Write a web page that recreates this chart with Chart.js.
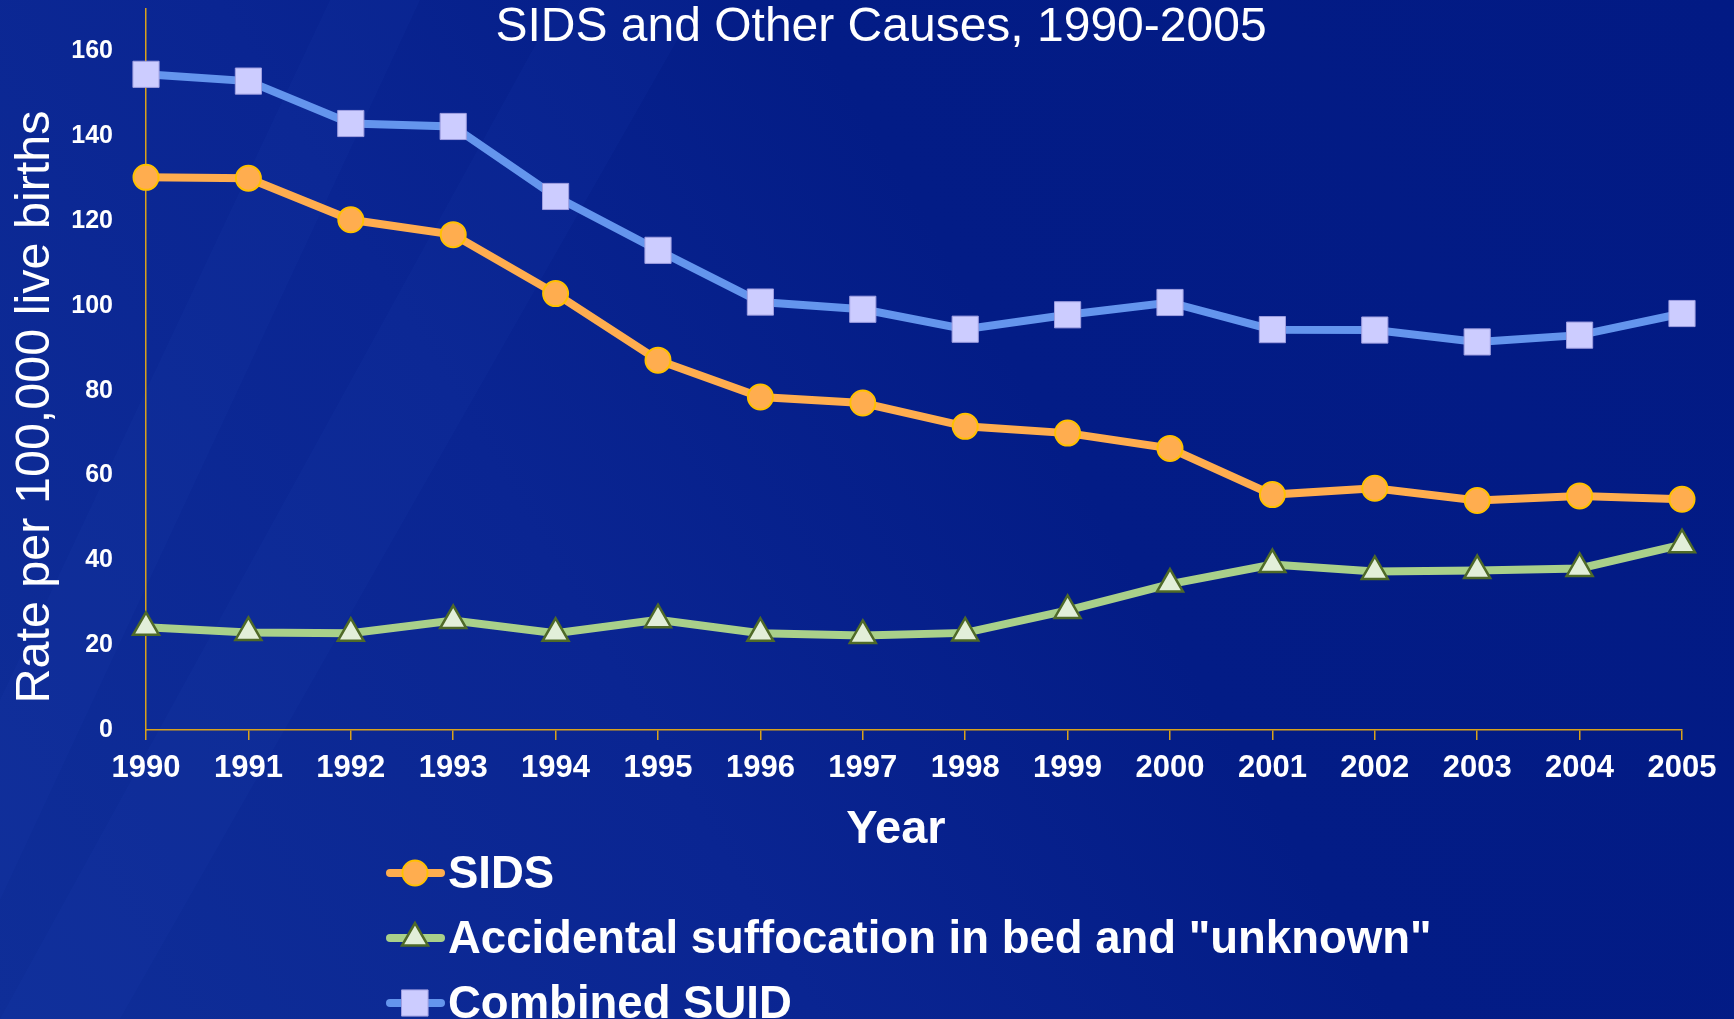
<!DOCTYPE html>
<html>
<head>
<meta charset="utf-8">
<script src="https://cdn.jsdelivr.net/npm/chart.js@4.4.1/dist/chart.umd.min.js"></script>
<style>
  html, body { margin: 0; padding: 0; background: #021a84; }
  #wrap { width: 1734px; height: 1019px; position: relative; }
</style>
</head>
<body>
<div id="wrap"><canvas id="chart"></canvas></div>
<script>
const years = ["1990","1991","1992","1993","1994","1995","1996","1997","1998","1999","2000","2001","2002","2003","2004","2005"];
const sids = [130.3, 130.1, 120.3, 116.8, 102.9, 87.2, 78.5, 77.1, 71.6, 70.0, 66.4, 55.5, 57.0, 54.1, 55.2, 54.4];
const accidental = [24.2, 23.0, 22.8, 25.8, 22.8, 26.0, 22.8, 22.3, 22.9, 28.2, 34.4, 39.0, 37.4, 37.6, 38.1, 43.7];
const combined = [154.6, 153.0, 143.0, 142.3, 125.8, 113.1, 100.9, 99.2, 94.5, 97.9, 100.8, 94.4, 94.3, 91.5, 93.1, 98.2];
const seriesNames = ["SIDS", "Accidental suffocation in bed and \"unknown\"", "Combined SUID"];

const chartTitle = "SIDS and Other Causes, 1990-2005";
const yTitle = "Rate per 100,000 live births";
const xTitle = "Year";

const axisGold = "#d9a21b";
const font = "'Liberation Sans', Arial, sans-serif";

// background + free text + stacked legend
const decor = {
  id: "decor",
  beforeDraw(chart) {
    const ctx = chart.ctx, w = chart.width, h = chart.height;
    ctx.save();
    let g = ctx.createLinearGradient(0, h, w, 0);
    g.addColorStop(0, "#0f2e98");
    g.addColorStop(0.35, "#0a2592");
    g.addColorStop(0.6, "#031c86");
    g.addColorStop(1, "#021a84");
    ctx.fillStyle = g;
    ctx.fillRect(0, 0, w, h);
    // faint diagonal streaks
    ctx.globalAlpha = 0.07;
    ctx.fillStyle = "#3050c0";
    ctx.beginPath();
    ctx.moveTo(0, 700); ctx.lineTo(330, 0); ctx.lineTo(420, 0); ctx.lineTo(0, 900);
    ctx.fill();
    ctx.beginPath();
    ctx.moveTo(0, 1019); ctx.lineTo(560, 0); ctx.lineTo(700, 0); ctx.lineTo(120, 1019);
    ctx.fill();
    ctx.restore();
  },
  afterDraw(chart) {
    const ctx = chart.ctx;
    ctx.save();
    ctx.fillStyle = "#ffffff";

    ctx.font = "48px " + font;
    ctx.textAlign = "center";
    ctx.textBaseline = "alphabetic";
    ctx.fillText(chartTitle, 881, 41);

    ctx.font = "bold 47px " + font;
    ctx.fillText(xTitle, 896, 843);

    ctx.save();
    ctx.translate(49, 407);
    ctx.rotate(-Math.PI / 2);
    ctx.font = "48.5px " + font;
    ctx.fillText(yTitle, 0, 0);
    ctx.restore();

    // legend, one entry per row
    chart.data.datasets.forEach((ds, i) => {
      const cy = 873 + i * 65;
      ctx.strokeStyle = ds.borderColor;
      ctx.lineWidth = 8;
      ctx.lineCap = "round";
      ctx.beginPath();
      ctx.moveTo(390, cy);
      ctx.lineTo(441, cy);
      ctx.stroke();
      ctx.fillStyle = ds.pointBackgroundColor;
      ctx.strokeStyle = ds.pointBorderColor;
      ctx.lineWidth = ds.pointBorderWidth;
      Chart.helpers.drawPoint(ctx, {
        pointStyle: ds.pointStyle, radius: ds.pointRadius,
        borderWidth: ds.pointBorderWidth, rotation: 0
      }, 415, cy);
      ctx.fillStyle = "#ffffff";
      ctx.font = "bold 45.5px " + font;
      ctx.textAlign = "left";
      ctx.fillText(ds.label, 448, cy + 15);
    });
    ctx.restore();
  }
};

new Chart(document.getElementById("chart"), {
  type: "line",
  data: {
    labels: years,
    datasets: [
      {
        label: seriesNames[0],
        data: sids,
        borderColor: "#ffad4f",
        borderWidth: 8,
        pointStyle: "circle",
        pointRadius: 12.5,
        pointBackgroundColor: "#ffad4f",
        pointBorderColor: "#ffc000",
        pointBorderWidth: 2,
        clip: false
      },
      {
        label: seriesNames[1],
        data: accidental,
        borderColor: "#a9d08a",
        borderWidth: 8,
        pointStyle: "triangle",
        pointRadius: 15,
        pointBackgroundColor: "#e2efd9",
        pointBorderColor: "#4f6a28",
        pointBorderWidth: 2.5,
        clip: false
      },
      {
        label: seriesNames[2],
        data: combined,
        borderColor: "#6495ed",
        borderWidth: 8,
        pointStyle: "rect",
        pointRadius: 18.5,
        pointBackgroundColor: "#ccccff",
        pointBorderColor: "#9f9fe0",
        pointBorderWidth: 1,
        clip: false
      }
    ]
  },
  options: {
    responsive: true,
    maintainAspectRatio: false,
    animation: false,
    events: [],
    layout: { autoPadding: false, padding: { top: 9, right: 52, bottom: 229, left: 0 } },
    elements: { line: { tension: 0 } },
    plugins: {
      legend: { display: false },
      title: { display: false },
      tooltip: { enabled: false }
    },
    scales: {
      x: {
        offset: false,
        grid: { display: true, drawOnChartArea: false, color: axisGold, lineWidth: 1.5, tickLength: 10 },
        border: { color: axisGold, width: 1.5 },
        ticks: { color: "#ffffff", font: { family: font, size: 31, weight: "bold" }, padding: 10, maxRotation: 0, autoSkip: false },
        afterFit(scale) { scale.height = 60; scale.paddingLeft = 0; scale.paddingRight = 0; }
      },
      y: {
        min: 0,
        max: 170,
        grid: { display: false },
        border: { color: axisGold, width: 1.5 },
        ticks: { stepSize: 20, color: "#ffffff", font: { family: font, size: 25, weight: "bold" }, padding: 25 },
        afterBuildTicks(scale) { scale.ticks = scale.ticks.filter(t => t.value % 20 === 0); },
        afterFit(scale) { scale.width = 146; scale.paddingTop = 0; scale.paddingBottom = 0; }
      }
    }
  },
  plugins: [decor]
});
</script>
</body>
</html>
